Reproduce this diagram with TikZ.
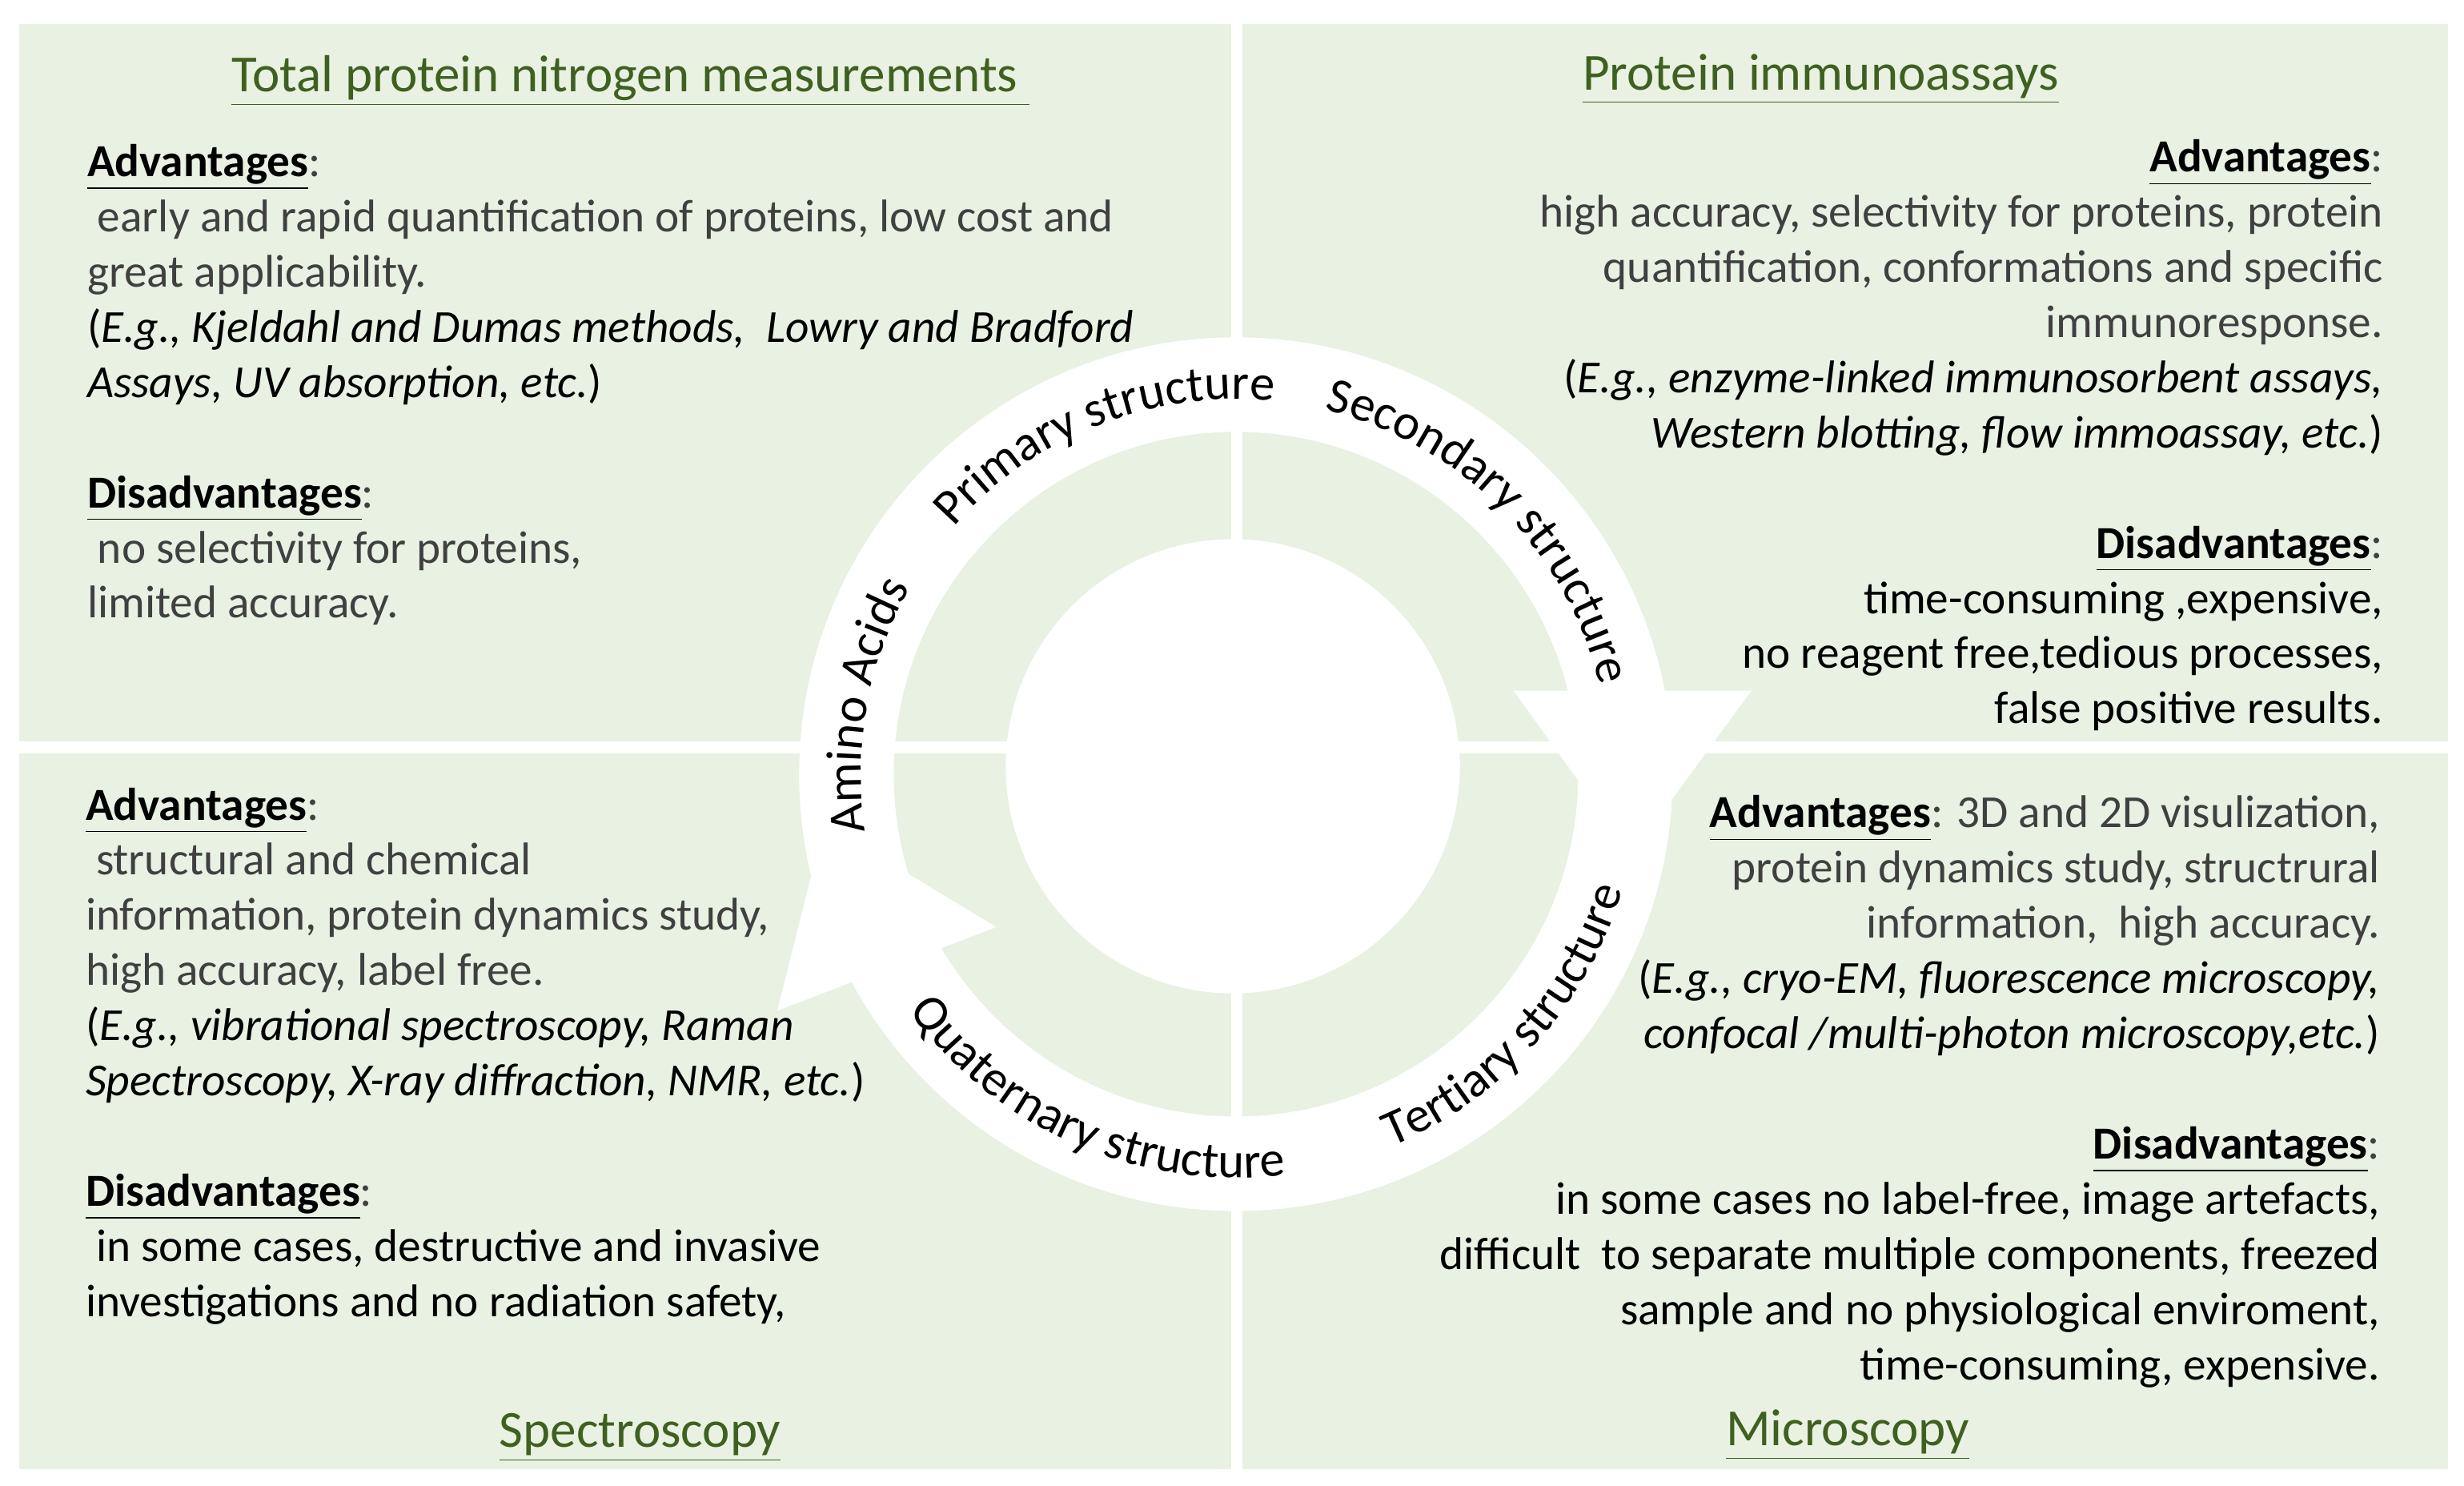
\documentclass[tikz,border=0pt]{standalone}
\usepackage{fontspec}
\setmainfont{Carlito}
\usetikzlibrary{decorations.text}
\definecolor{panel}{HTML}{E8F1E2}
\definecolor{ttl}{HTML}{3F6020}
\definecolor{body}{HTML}{404040}
\newcommand{\hd}[1]{\textcolor{black}{\underline{\textbf{#1}}}}
\begin{document}
\begin{tikzpicture}[x=0.01969cm,y=-0.01969cm,
  ln/.style={inner sep=0,font=\fontsize{16.3}{19}\selectfont,text=body},
  L/.style={ln,anchor=base west},
  R/.style={ln,anchor=base east},
  ttlst/.style={inner sep=0,anchor=base,font=\fontsize{18.5}{22}\selectfont,text=ttl}]
\useasboundingbox (0,0) rectangle (1563,942);
\fill[white] (0,0) rectangle (1563,942);
% panels
\fill[panel] (12,15) rectangle (781,470);
\fill[panel] (788,15) rectangle (1553,470);
\fill[panel] (12,478) rectangle (781,932);
\fill[panel] (788,478) rectangle (1553,932);
% ring
\coordinate (C) at (784,491);
\fill[white,even odd rule] (C) circle[radius=5.454cm] (C) circle[radius=4.273cm];
\fill[white] (960,438) -- (1111,438) -- (1035,542) -- cycle;
\fill[white] (493,641) -- (632,588) -- (523,522) -- cycle;
\fill[white] (782,486) circle[radius=2.835cm];
{\fontsize{17.8}{19}\selectfont
\path[decorate,decoration={text along path,text={Primary structure},text align=center}] (C) ++(141:4.68cm) arc[start angle=141,end angle=82,radius=4.68cm];
\path[decorate,decoration={text along path,text={Secondary structure},text align=center}] (C) ++(79:4.68cm) arc[start angle=79,end angle=11,radius=4.68cm];
\path[decorate,decoration={text along path,text={Amino Acids},text align=center}] (C) ++(191:4.68cm) arc[start angle=191,end angle=148,radius=4.68cm];
\path[decorate,decoration={text along path,text={Tertiary structure},text align=center}] (C) ++(-71:5.04cm) arc[start angle=-71,end angle=-13,radius=5.04cm];
\path[decorate,decoration={text along path,text={Quaternary structure},text align=center}] (C) ++(211:5.04cm) arc[start angle=211,end angle=282,radius=5.04cm];
}
% titles
\node[ttlst] (t1) at (400,58) {\underline{Total protein nitrogen measurements\ }};
\node[ttlst] (t2) at (1155,57) {\underline{Protein immunoassays}};
\node[ttlst] (t3) at (406,918) {\underline{Spectroscopy}};
\node[ttlst] (t4) at (1172,917) {\underline{Microscopy}};
% top left
\node[L] (a1) at (55,112) {\hd{Advantages}:};
\node[L] (a2) at (55,147) {\ early and rapid quantification of proteins, low cost and};
\node[L] (a3) at (55,182) {great applicability.};
\node[L,text=black] (a4) at (55,217) {(\textit{E.g., Kjeldahl and Dumas methods,\ \ Lowry and Bradford}};
\node[L,text=black] (a5) at (55,252) {\textit{Assays, UV absorption, etc.})};
\node[L] (a6) at (55,322) {\hd{Disadvantages}:};
\node[L] (a7) at (55,357) {\ no selectivity for proteins,};
\node[L] (a8) at (55,392) {limited accuracy.};
% top right
\node[R] (b1) at (1512,109) {\hd{Advantages}:};
\node[R] (b2) at (1512,144) {high accuracy, selectivity for proteins, protein};
\node[R] (b3) at (1512,179) {quantification, conformations and specific};
\node[R] (b4) at (1512,214) {immunoresponse.};
\node[R,text=black] (b5) at (1512,249) {(\textit{E.g., enzyme-linked immunosorbent assays,}};
\node[R,text=black] (b6) at (1512,284) {\textit{Western blotting, flow immoassay, etc.})};
\node[R] (b7) at (1512,354) {\hd{Disadvantages}:};
\node[R,text=black] (b8) at (1512,389) {time-consuming ,expensive,};
\node[R,text=black] (b9) at (1512,424) {no reagent free,tedious processes,};
\node[R,text=black] (b10) at (1512,459) {false positive results.};
% bottom left
\node[L] (c1) at (54,520) {\hd{Advantages}:};
\node[L] (c2) at (54,555) {\ structural and chemical};
\node[L] (c3) at (54,590) {information, protein dynamics study,};
\node[L] (c4) at (54,625) {high accuracy, label free.};
\node[L,text=black] (c5) at (54,660) {(\textit{E.g., vibrational spectroscopy, Raman}};
\node[L,text=black] (c6) at (54,695) {\textit{Spectroscopy, X-ray diffraction, NMR, etc.})};
\node[L] (c7) at (54,765) {\hd{Disadvantages}:};
\node[L,text=black] (c8) at (54,800) {\ in some cases, destructive and invasive};
\node[L,text=black] (c9) at (54,835) {investigations and no radiation safety,};
% bottom right
\node[R] (d1) at (1510,525) {\hd{Advantages}: 3D and 2D visulization,};
\node[R] (d2) at (1510,560) {protein dynamics study, structrural};
\node[R] (d3) at (1510,595) {information,\ \ high accuracy.};
\node[R,text=black] (d4) at (1510,630) {(\textit{E.g., cryo-EM, fluorescence microscopy,}};
\node[R,text=black] (d5) at (1510,665) {\textit{confocal /multi-photon microscopy,etc.})};
\node[R] (d6) at (1510,735) {\hd{Disadvantages}:};
\node[R,text=black] (d7) at (1510,770) {in some cases no label-free, image artefacts,};
\node[R,text=black] (d8) at (1510,805) {difficult\ \ to separate multiple components, freezed};
\node[R,text=black] (d9) at (1510,840) {sample and no physiological enviroment,};
\node[R,text=black] (d10) at (1510,875) {time-consuming, expensive.};
\end{tikzpicture}
\end{document}
